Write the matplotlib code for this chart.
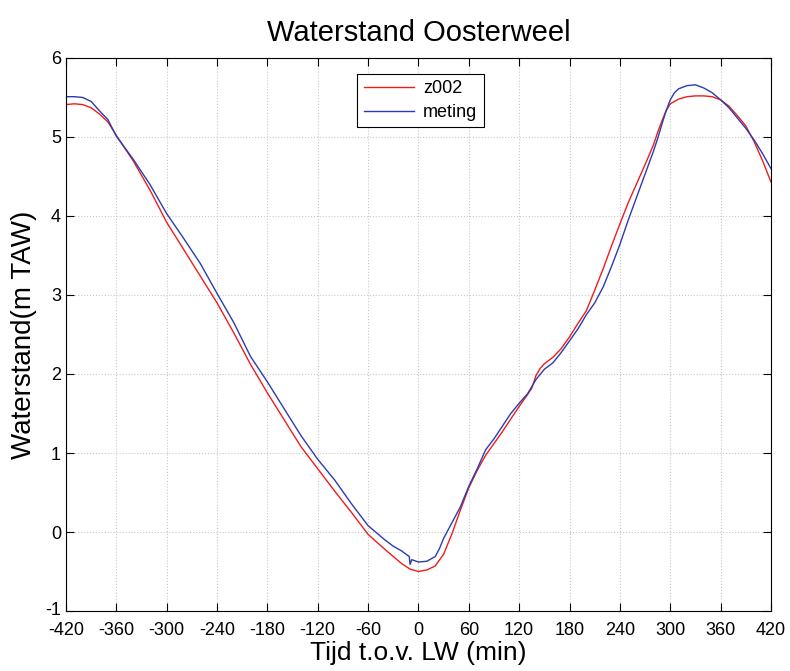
import matplotlib
matplotlib.use("Agg")
import matplotlib.pyplot as plt
import matplotlib.transforms as mtransforms

# model z002
tijd_model = [-420, -410, -400, -390, -380, -370, -360, -340, -320, -300, -280, -260,
              -240, -220, -200, -180, -160, -140, -120, -100, -80, -60, -40, -20, -10,
              0, 10, 20, 30, 40, 50, 60, 70, 80, 90, 100, 110, 120, 130, 135, 140,
              145, 150, 160, 170, 180, 190, 200, 210, 220, 230, 240, 250, 260, 270,
              280, 285, 290, 295, 300, 310, 320, 330, 340, 350, 360, 370, 380, 390, 400, 410, 420]
z002 = [5.41, 5.42, 5.41, 5.37, 5.29, 5.19, 5.02, 4.70, 4.33, 3.92, 3.58, 3.24,
        2.90, 2.52, 2.12, 1.76, 1.42, 1.08, 0.80, 0.52, 0.25, -0.03, -0.22, -0.40, -0.47,
        -0.50, -0.48, -0.43, -0.28, -0.02, 0.28, 0.56, 0.78, 0.97, 1.12, 1.27, 1.43, 1.59, 1.74, 1.82, 1.98,
        2.07, 2.13, 2.21, 2.32, 2.47, 2.64, 2.80, 3.06, 3.33, 3.62, 3.90, 4.17, 4.41, 4.65,
        4.90, 5.06, 5.20, 5.33, 5.42, 5.48, 5.51, 5.52, 5.52, 5.51, 5.47, 5.39, 5.27, 5.14, 4.94, 4.70, 4.43]

# meting
tijd_meting = [-420, -410, -400, -390, -380, -370, -360, -340, -320, -300, -280, -260,
               -240, -220, -200, -180, -160, -140, -120, -100, -80, -60, -40, -30, -20,
               -15, -11, -10, -8, 0, 10, 20, 25, 30, 40, 50, 60, 70, 80, 90, 100, 110, 120,
               130, 140, 150, 160, 170, 180, 190, 200, 210, 220, 230, 240, 250, 260, 270,
               280, 285, 290, 295, 300, 305, 310, 320, 330, 340, 350, 360, 370, 380, 390, 400, 410, 420]
meting = [5.51, 5.51, 5.50, 5.45, 5.33, 5.22, 5.01, 4.72, 4.40, 4.03, 3.72, 3.40,
          3.02, 2.65, 2.22, 1.90, 1.56, 1.22, 0.92, 0.66, 0.36, 0.08, -0.10, -0.18, -0.24,
          -0.28, -0.31, -0.41, -0.35, -0.38, -0.37, -0.31, -0.21, -0.08, 0.12, 0.32, 0.58, 0.80, 1.04, 1.18, 1.34, 1.50, 1.63,
          1.75, 1.93, 2.06, 2.14, 2.27, 2.42, 2.57, 2.75, 2.90, 3.10, 3.36, 3.64, 3.95, 4.24, 4.53,
          4.82, 4.98, 5.16, 5.33, 5.47, 5.56, 5.61, 5.65, 5.66, 5.62, 5.56, 5.47, 5.37, 5.24, 5.11, 4.96, 4.79, 4.60]

xticks = list(range(-420, 421, 60))
yticks = list(range(-1, 7))

plt.rcParams['font.family'] = ['Liberation Sans', 'DejaVu Sans']
plt.rcParams['axes.unicode_minus'] = False

fig = plt.figure(figsize=(7.9, 6.71), dpi=100)
ax = fig.add_axes([0.0835, 0.0894, 0.8924, 0.8242])

ax.plot(tijd_model, z002, color='#ee1c1c', linewidth=1.0, label='z002')
ax.plot(tijd_meting, meting, color='#2a3cb4', linewidth=1.0, label='meting')

ax.set_xlim(-420, 420)
ax.set_ylim(-1, 6)
ax.set_xticks(xticks)
ax.set_yticks(yticks)
ax.tick_params(direction='in', top=True, right=True, labelsize=13, length=6)
ax.tick_params(axis='x', pad=8)
ax.tick_params(axis='y', pad=3.5)
ax.grid(True, linestyle=':', color='#c8c8c8', linewidth=0.8)
for s in ax.spines.values():
    s.set_linewidth(0.8)

# nudge the lowest y label up a little so it clears -420
lbl = ax.get_yticklabels()[0]
lbl.set_transform(lbl.get_transform() + mtransforms.ScaledTranslation(0, 2 / 72, fig.dpi_scale_trans))

ax.set_title('Waterstand Oosterweel', fontsize=21, pad=12)
ax.set_xlabel('Tijd t.o.v. LW (min)', fontsize=19, labelpad=1)
ax.set_ylabel('Waterstand(m TAW)', fontsize=20, labelpad=6)

leg = ax.legend(loc='upper center', bbox_to_anchor=(0.503, 0.988), fontsize=13,
                fancybox=False, edgecolor='black', framealpha=1, handlelength=2.8,
                borderpad=0.35, labelspacing=0.4, handletextpad=0.5)
leg.get_frame().set_linewidth(0.8)

fig.savefig('out.png', dpi=100)
